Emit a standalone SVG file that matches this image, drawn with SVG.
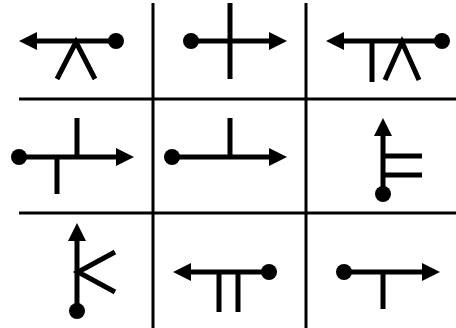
<svg xmlns="http://www.w3.org/2000/svg" width="456" height="328" viewBox="0 0 456 328">
<style>
.grid{stroke:#000;stroke-width:3;fill:none}
.s{stroke:#000;stroke-width:5;fill:none}
.f{fill:#000}
</style>
<rect width="456" height="328" fill="#fff"/>
<g id="grid">
<line class="grid" x1="153" y1="3" x2="153" y2="328"/>
<line class="grid" x1="306" y1="3" x2="306" y2="328"/>
<line class="grid" x1="19" y1="99" x2="456" y2="99"/>
<line class="grid" x1="19" y1="213" x2="456" y2="213"/>
</g>
<g id="cell1">
<line class="s" x1="34" y1="41" x2="116" y2="41"/>
<polygon class="f" points="19,41 37,32 37,50"/>
<circle class="f" cx="116" cy="41" r="8"/>
<polyline class="s" points="57,79 76,42 95,79"/>
</g>
<g id="cell2">
<line class="s" x1="191" y1="41" x2="272" y2="41"/>
<polygon class="f" points="287,41 269,32 269,50"/>
<circle class="f" cx="191" cy="41" r="8"/>
<line class="s" x1="230" y1="3" x2="230" y2="79"/>
</g>
<g id="cell3">
<line class="s" x1="340" y1="41" x2="442" y2="41"/>
<polygon class="f" points="326,41 344,32 344,50"/>
<circle class="f" cx="442" cy="41" r="8"/>
<line class="s" x1="372" y1="41" x2="372" y2="82"/>
<polyline class="s" points="385,80 402,42 419,80"/>
</g>
<g id="cell4">
<line class="s" x1="19" y1="157" x2="120" y2="157"/>
<polygon class="f" points="134,157 116,148 116,166"/>
<circle class="f" cx="19" cy="157" r="8"/>
<line class="s" x1="77" y1="118" x2="77" y2="157"/>
<line class="s" x1="57" y1="157" x2="57" y2="194"/>
</g>
<g id="cell5">
<line class="s" x1="172" y1="157" x2="272" y2="157"/>
<polygon class="f" points="287,157 269,148 269,166"/>
<circle class="f" cx="172" cy="157" r="8"/>
<line class="s" x1="230" y1="118" x2="230" y2="157"/>
</g>
<g id="cell6">
<line class="s" x1="383" y1="133" x2="383" y2="194"/>
<polygon class="f" points="383,118 374,136 392,136"/>
<circle class="f" cx="383" cy="194" r="8"/>
<line class="s" x1="383" y1="156" x2="422" y2="156"/>
<line class="s" x1="383" y1="175" x2="422" y2="175"/>
</g>
<g id="cell7">
<line class="s" x1="77" y1="237" x2="77" y2="311"/>
<polygon class="f" points="77,223 68,241 86,241"/>
<circle class="f" cx="77" cy="311" r="8"/>
<polyline class="s" points="115,252 78,272 115,292"/>
</g>
<g id="cell8">
<line class="s" x1="187" y1="272" x2="269" y2="272"/>
<polygon class="f" points="173,272 191,263 191,281"/>
<circle class="f" cx="269" cy="272" r="8"/>
<line class="s" x1="219" y1="272" x2="219" y2="312"/>
<line class="s" x1="238" y1="272" x2="238" y2="312"/>
</g>
<g id="cell9">
<line class="s" x1="344" y1="272" x2="426" y2="272"/>
<polygon class="f" points="440,272 422,263 422,281"/>
<circle class="f" cx="344" cy="272" r="8"/>
<line class="s" x1="383" y1="272" x2="383" y2="309"/>
</g>
</svg>
